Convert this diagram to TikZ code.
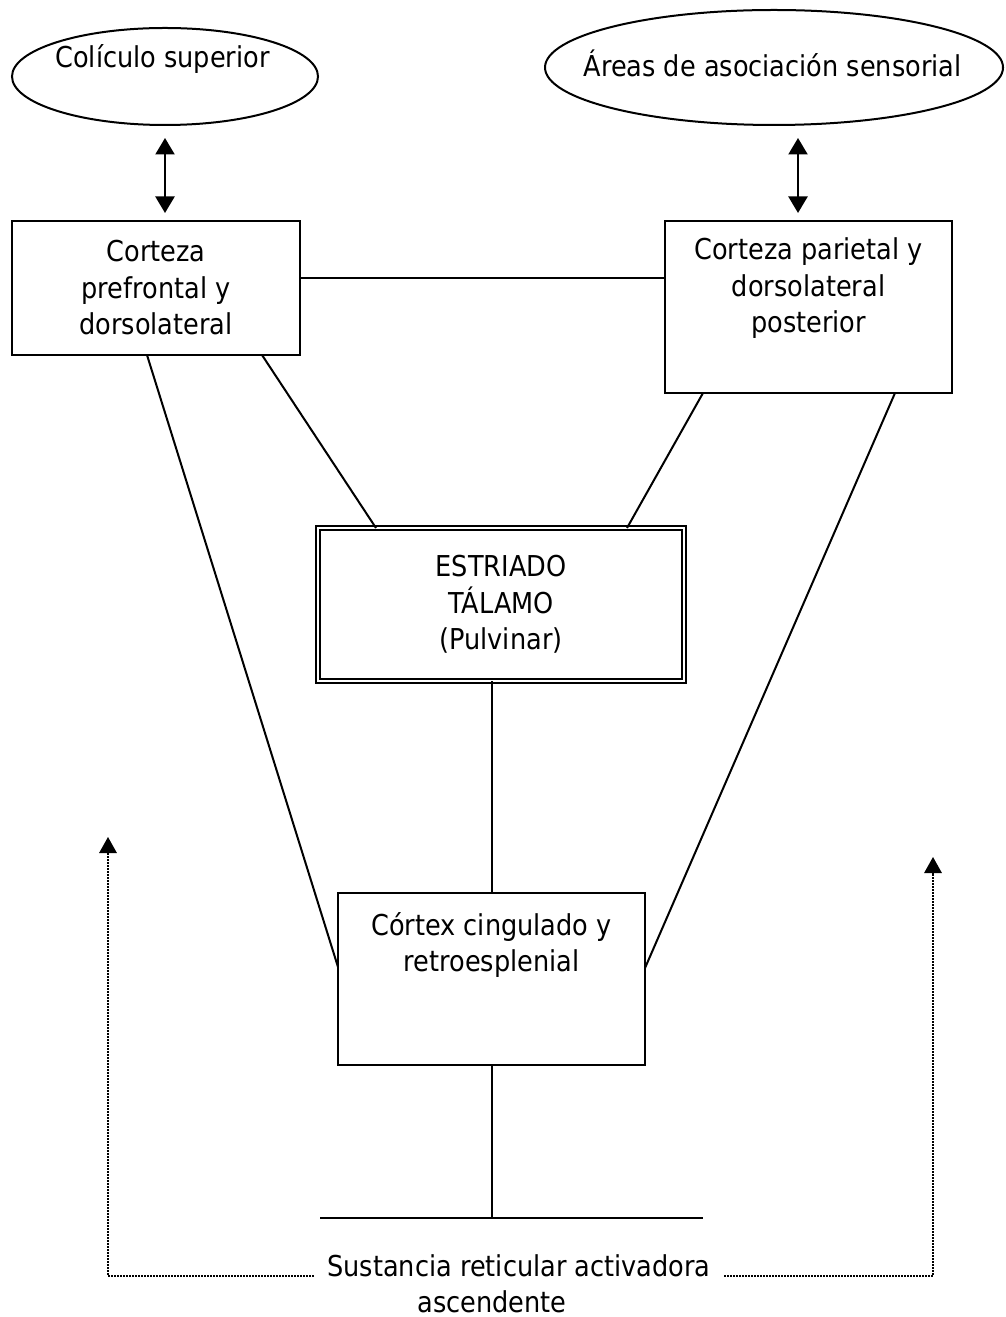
\documentclass[tikz,border=0pt]{standalone}
\usepackage{fontspec}
\setmainfont{DejaVu Sans}[FakeStretch=0.89]
\usetikzlibrary{calc,positioning,shapes.geometric,arrows.meta}

\begin{document}
\begin{tikzpicture}[x=0.4pt,y=-0.4pt,
    every node/.style={font=\fontsize{11.5pt}{14.6pt}\selectfont,outer sep=0pt},
    box/.style={draw,line width=0.8pt,inner sep=0pt,align=center},
    dbox/.style={draw,line width=0.7pt,double,double distance=1.1pt,inner sep=0pt,align=center},
    ell/.style={draw,ellipse,line width=0.8pt,inner sep=0pt},
    lbl/.style={align=center,inner sep=0pt},
    link/.style={line width=0.8pt},
    dblarr/.style={line width=0.9pt,{Triangle[width=7.6pt,length=6.6pt]}-{Triangle[width=7.6pt,length=6.6pt]}},
    dotarr/.style={line width=0.6pt,dash pattern=on 0.6pt off 0.6pt,-{Triangle[width=7pt,length=6.4pt]}}]
 \useasboundingbox (0,0) rectangle (1005,1317);

 \node[ell,minimum width=122.4pt,minimum height=38.8pt] (colic) at (165,76.5) {};
 \node[lbl,anchor=base] (colict) at (162.5,68) {Colículo superior};
 \node[ell,minimum width=183.2pt,minimum height=46pt] (asa) at (774,67.5) {};
 \node[lbl,anchor=base] (asat) at (772.5,77) {Áreas de asociación sensorial};

 \node[box,minimum width=115.2pt,minimum height=53.6pt] (pf) at (156,288)
  {Corteza\\prefrontal y\\dorsolateral};
 \node[box,minimum width=114.8pt,minimum height=68.8pt] (par) at (808.5,307) {};
 \node[lbl,below=6.8pt of par.north] (part) {Corteza parietal y\\dorsolateral\\posterior};

 \node[dbox,minimum width=146.4pt,minimum height=61.2pt] (str) at (501,604.5)
  {ESTRIADO\\TÁLAMO\\(Pulvinar)};

 \node[box,minimum width=122.8pt,minimum height=68.8pt] (cx) at (491.5,979) {};
 \node[lbl,below=7.6pt of cx.north] (cxt) {Córtex cingulado y\\retroesplenial};

 \coordinate (barl) at (320,1218);
 \coordinate (barr) at (703,1218);
 \node[lbl,anchor=base,inner xsep=5.4pt] (sra) at (519,1276) {Sustancia reticular activadora};
 \node[lbl,anchor=base] (asc) at (492,1312) {ascendente};
 \coordinate (la) at (108,837);
 \coordinate (ra) at (933,857);

 \draw[dblarr,shorten <=5.2pt,shorten >=3.2pt] (colic.south) -- (colic.south |- pf.north);
 \coordinate (parin) at ($(par.north)+(-10.5,0)$);
 \draw[dblarr,shorten <=5.2pt,shorten >=3.2pt] (parin |- asa.south) -- (parin);

 \coordinate (pfmid) at ($(pf.east)+(0,-10)$);
 \draw[link] (pfmid) -- (pfmid -| par.west);
 \draw[link] ($(pf.south west)+(135,0)$) -- ($(cx.north west)+(0,74)$);
 \draw[link] ($(pf.south west)+(250,0)$) -- ($(str.north west)+(58,0)$);
 \draw[link] ($(par.south west)+(38,0)$) -- ($(str.north west)+(309,0)$);
 \draw[link] ($(par.south west)+(230,0)$) -- ($(cx.north east)+(0,75)$);
 \draw[link] (cx.north |- str.south) -- (cx.north);
 \draw[link] (cx.south) -- (cx.south |- barl);
 \draw[link] (barl) -- (barr);

 \draw[dotarr] (sra.base west) -| (la);
 \draw[dotarr] (sra.base east) -| (ra);
\end{tikzpicture}
\end{document}
